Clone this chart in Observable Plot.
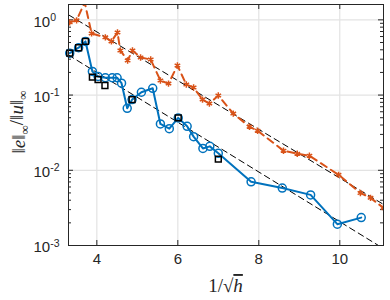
<!DOCTYPE html>
<html>
<head>
<meta charset="utf-8">
<script src="https://cdn.jsdelivr.net/npm/d3@7"></script>
<script src="https://cdn.jsdelivr.net/npm/@observablehq/plot@0.6"></script>
<style>
  html, body { margin: 0; padding: 0; background: white; }
</style>
</head>
<body>
<div id="chart"></div>
<script>
// ---- data ----
const blueX = [3.33, 3.55, 3.72, 3.89, 4.03, 4.21, 4.38, 4.50, 4.61, 4.75, 4.87, 5.10, 5.38, 5.57, 5.79, 6.01, 6.23, 6.39, 6.62, 6.79, 7.00, 7.81, 8.58, 9.28, 9.94, 10.53];
const blueY = [0.361, 0.426, 0.517, 0.206, 0.177, 0.170, 0.170, 0.170, 0.144, 0.0667, 0.087, 0.109, 0.123, 0.0413, 0.0357, 0.0497, 0.0384, 0.028, 0.0195, 0.0208, 0.0168, 0.00703, 0.0058, 0.00471, 0.00192, 0.00235];

const squareX = [3.33, 3.55, 3.72, 3.89, 4.03, 4.20, 4.87, 6.01, 7.00];
const squareY = [0.361, 0.426, 0.517, 0.173, 0.161, 0.134, 0.087, 0.0497, 0.0141];

const orangeX = [3.33, 3.50, 3.70, 3.87, 4.21, 4.36, 4.51, 4.58, 4.76, 4.88, 5.08, 5.33, 5.57, 5.77, 5.99, 6.21, 6.39, 6.61, 6.78, 7.00, 7.37, 7.77, 7.97, 8.61, 8.95, 9.25, 9.97, 10.51, 10.76, 11.08];
const orangeY = [0.926, 0.985, 1.71, 0.661, 0.585, 0.517, 0.681, 0.392, 0.288, 0.392, 0.316, 0.297, 0.156, 0.142, 0.247, 0.138, 0.126, 0.0871, 0.077, 0.0985, 0.0567, 0.038, 0.0336, 0.0182, 0.0166, 0.0156, 0.0087, 0.005, 0.0043, 0.00316];

const refX = [3.3, 11.08];
const ref1Y = [1.166, 0.00352];
const ref2Y = [0.34, 0.00091];

const xTicks = [4, 6, 8, 10];
const yTicks = [0.001, 0.01, 0.1, 1];
const yMinor = [2,3,4,5,6,7,8,9].flatMap(m => [0.001, 0.01, 0.1].map(d => m * d));

// ---- build tables ----
const blue = blueX.map((x, i) => ({x, y: blueY[i]}));
const squares = squareX.map((x, i) => ({x, y: squareY[i]}));
const orange = orangeX.map((x, i) => ({x, y: orangeY[i]}));
const ref1 = refX.map((x, i) => ({x, y: ref1Y[i]}));
const ref2 = refX.map((x, i) => ({x, y: ref2Y[i]}));

const W = 390, H = 300, mL = 68, mR = 7, mT = 4, mB = 55;
const pw = W - mL - mR, ph = H - mT - mB;
const axisColor = "#262626";
const gridColor = "#e3e3e3";

const chart = Plot.plot({
  width: W, height: H,
  marginLeft: mL, marginRight: mR, marginTop: mT, marginBottom: mB,
  style: {fontFamily: "'Liberation Sans', Arial, sans-serif", fontSize: "14px", background: "white", color: axisColor},
  x: {domain: [3.3, 11.08], axis: null},
  y: {type: "log", domain: [0.001, 1.6], axis: null},
  marks: [
    Plot.gridX(xTicks, {stroke: gridColor, strokeOpacity: 1, strokeWidth: 1.2}),
    Plot.gridY(yTicks, {stroke: gridColor, strokeOpacity: 1, strokeWidth: 1.2}),
    // major ticks (inward)
    Plot.tickX(xTicks, {x: d => d, insetTop: ph - 5, stroke: axisColor, strokeWidth: 1}),
    Plot.tickX(xTicks, {x: d => d, insetBottom: ph - 5, stroke: axisColor, strokeWidth: 1}),
    Plot.tickY(yTicks, {y: d => d, insetRight: pw - 5, stroke: axisColor, strokeWidth: 1}),
    Plot.tickY(yTicks, {y: d => d, insetLeft: pw - 5, stroke: axisColor, strokeWidth: 1}),
    // minor ticks
    Plot.tickY(yMinor, {y: d => d, insetRight: pw - 3, stroke: axisColor, strokeWidth: 1}),
    Plot.tickY(yMinor, {y: d => d, insetLeft: pw - 3, stroke: axisColor, strokeWidth: 1}),
    // reference lines
    Plot.line(ref1, {x: "x", y: "y", stroke: "black", strokeWidth: 1, strokeDasharray: "6,4", clip: true}),
    Plot.line(ref2, {x: "x", y: "y", stroke: "black", strokeWidth: 1, strokeDasharray: "6,4", clip: true}),
    // orange series
    Plot.line(orange, {x: "x", y: "y", stroke: "#D95319", strokeWidth: 2, strokeDasharray: "7,5", clip: true}),
    Plot.dot(orange, {x: "x", y: "y", symbol: "asterisk", r: 3, stroke: "#D95319", strokeWidth: 1.5, clip: true}),
    // blue series
    Plot.line(blue, {x: "x", y: "y", stroke: "#0072BD", strokeWidth: 2}),
    Plot.dot(blue, {x: "x", y: "y", symbol: "circle", r: 4, stroke: "#0072BD", strokeWidth: 1.5, fill: "none"}),
    // black squares
    Plot.dot(squares, {x: "x", y: "y", symbol: "square", r: 3.3, stroke: "black", strokeWidth: 1.5, fill: "none"}),
    // tick labels
    Plot.text(xTicks, {x: d => d, text: d => String(d), frameAnchor: "bottom", dy: 18, fontSize: 15, fill: axisColor}),
    Plot.text(yTicks, {y: d => d, text: d => "10^" + Math.round(Math.log10(d)), frameAnchor: "left", textAnchor: "start", dx: -35, dy: 2, fontSize: 15, fill: axisColor}),
    Plot.frame({stroke: axisColor, strokeWidth: 1})
  ]
});

document.getElementById("chart").appendChild(chart);

// superscripts for y tick labels
const svg = d3.select(chart);
svg.selectAll("text").each(function() {
  const t = d3.select(this);
  const s = t.text();
  const m = s.match(/^10\^(-?\d+)$/);
  if (m) {
    t.text("10");
    t.append("tspan").attr("dy", "-0.55em").attr("font-size", "10.5px").text(m[1]);
  }
});

// axis labels
const xl = svg.append("text")
  .attr("x", mL + pw / 2)
  .attr("y", 292)
  .attr("text-anchor", "middle")
  .attr("font-family", "'Liberation Serif', 'DejaVu Serif', serif")
  .attr("font-size", "19px")
  .attr("fill", axisColor);
xl.append("tspan").text("1/√");
xl.append("tspan").attr("font-style", "italic").attr("text-decoration", "overline").text("h");

const yl = svg.append("text")
  .attr("transform", `translate(25,${mT + 118}) rotate(-90)`)
  .attr("text-anchor", "middle")
  .attr("font-family", "'Liberation Serif', 'DejaVu Serif', serif")
  .attr("font-size", "19px")
  .attr("fill", axisColor);
yl.append("tspan").text("‖");
yl.append("tspan").attr("font-style", "italic").text("e");
yl.append("tspan").text("‖");
yl.append("tspan").attr("font-size", "13px").attr("dy", "0.3em").text("∞");
yl.append("tspan").attr("dy", "-0.3em").text("/‖");
yl.append("tspan").attr("font-style", "italic").text("u");
yl.append("tspan").text("‖");
yl.append("tspan").attr("font-size", "13px").attr("dy", "0.3em").text("∞");
</script>
</body>
</html>
